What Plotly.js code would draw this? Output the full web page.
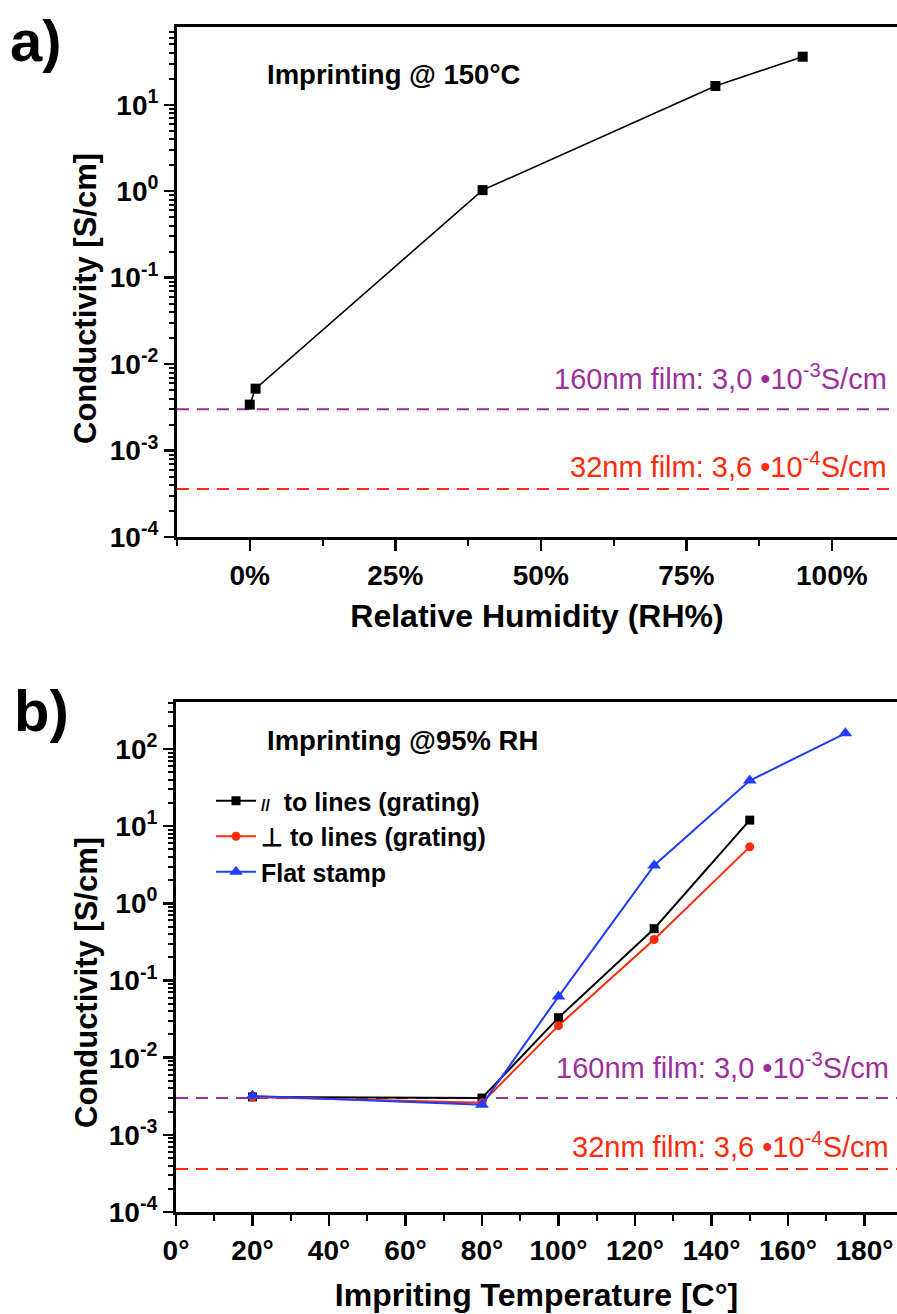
<!DOCTYPE html>
<html>
<head>
<meta charset="utf-8">
<script src="https://cdn.plot.ly/plotly-3.0.1.min.js"></script>
<style>html,body{margin:0;padding:0;background:#fff;}#chart{width:897px;height:1314px;}</style>
</head>
<body>
<div id="chart"></div>
<script>
// ---------- Data ----------
// Panel a: conductivity vs relative humidity (imprinting @150°C)
const rhValues = [0, 1, 40, 80, 95];              // RH %
const rhConductivity = [3.4e-3, 5.2e-3, 1.03, 16.5, 36];  // S/cm

// Panel b: conductivity vs imprinting temperature (95% RH)
const tempParallel = [20, 80, 100, 125, 150];
const condParallel = [3.1e-3, 3.0e-3, 0.033, 0.47, 12.0];
const tempPerp = [20, 80, 100, 125, 150];
const condPerp = [3.1e-3, 2.6e-3, 0.026, 0.34, 5.4];
const tempFlat = [20, 80, 100, 125, 150, 175];
const condFlat = [3.2e-3, 2.45e-3, 0.062, 3.1, 39, 160];

// Reference film conductivities
const film160 = 3.0e-3;
const film32 = 3.6e-4;

// Tick labels
const yTickVals = [1e-4, 1e-3, 1e-2, 1e-1, 1e0, 1e1, 1e2];
const yTickText = ['10<sup>-4</sup>', '10<sup>-3</sup>', '10<sup>-2</sup>', '10<sup>-1</sup>', '10<sup>0</sup>', '10<sup>1</sup>', '10<sup>2</sup>'];

const legendNames = [
  "<span style='font-size:16px'>//</span>  to lines (grating)",
  "\u22A5 to lines (grating)",
  "Flat stamp"
];
const yTitle = 'Conductivity [S/cm]';
const panelNotes = ['Imprinting @ 150°C', 'Imprinting @95% RH'];
const filmNotes = ['160nm film: 3,0 \u202210<sup>-3</sup>S/cm', '32nm film: 3,6 \u202210<sup>-4</sup>S/cm'];

// ---------- Styling ----------
const W = 897, H = 1314;
const py = p => 1 - p / H;
const px = p => p / W;
const FONT = 'Liberation Sans, Arial, sans-serif';
const PURPLE = '#9b2f9b';
const RED = '#ff2a0a';
const BLUE = '#1f3cff';

const minorVals = [];
for (let d = -5; d <= 3; d++) for (let k = 2; k <= 9; k++) minorVals.push(k * Math.pow(10, d));

const tickFont = {family: FONT, size: 28, color: '#000', weight: 'bold'};
const titleFont = {family: FONT, size: 32, color: '#000', weight: 'bold'};

function yAxis(range, domain, anchor) {
  return {
    type: 'log', range: range, domain: domain, anchor: anchor,
    tickmode: 'array', tickvals: yTickVals, ticktext: yTickText,
    ticks: 'outside', ticklen: 10, tickwidth: 2.5, tickcolor: '#000',
    minor: {tickmode: 'array', tickvals: minorVals, ticks: 'outside', ticklen: 5, tickwidth: 2, tickcolor: '#000', showgrid: false},
    showline: true, linewidth: 3, linecolor: '#000', mirror: false,
    showgrid: false, zeroline: false,
    tickfont: tickFont
  };
}

const traces = [
  {x: rhValues, y: rhConductivity, xaxis: 'x', yaxis: 'y', mode: 'lines+markers',
   line: {color: '#000', width: 1.6}, marker: {symbol: 'square', size: 10, color: '#000'}, showlegend: false},
  {x: tempParallel, y: condParallel, xaxis: 'x2', yaxis: 'y2', mode: 'lines+markers', name: legendNames[0],
   legendgroup: 'g1', line: {color: '#000', width: 2}, marker: {symbol: 'square', size: 9, color: '#000'}},
  {x: tempPerp, y: condPerp, xaxis: 'x2', yaxis: 'y2', mode: 'lines+markers', name: legendNames[1],
   legendgroup: 'g2', line: {color: RED, width: 2}, marker: {symbol: 'circle', size: 9, color: RED}},
  {x: tempFlat, y: condFlat, xaxis: 'x2', yaxis: 'y2', mode: 'lines+markers', name: legendNames[2],
   legendgroup: 'g3', line: {color: BLUE, width: 2}, marker: {symbol: 'triangle-up', size: 12, color: BLUE}}
];

function hline(yref, xref, val, color) {
  return {type: 'line', xref: xref + ' domain', yref: yref, x0: 0, x1: 1, y0: val, y1: val,
          line: {color: color, width: 2, dash: '12px,8px'}, layer: 'below'};
}

function note(text, xpx, ypx, color, size, bold, anchor, angle) {
  return {text: text, xref: 'paper', yref: 'paper', x: px(xpx), y: py(ypx), xanchor: anchor || 'left', yanchor: 'middle',
          textangle: angle || 0,
          showarrow: false, font: {family: FONT, size: size, color: color, weight: bold ? 'bold' : 'normal'}};
}

const layout = {
  width: W, height: H,
  margin: {l: 0, r: 0, t: 0, b: 0},
  paper_bgcolor: '#fff', plot_bgcolor: '#fff',
  font: {family: FONT, color: '#000'},
  xaxis: {
    domain: [px(177), 1], anchor: 'y', range: [-12.5, 111.2],
    tickmode: 'linear', tick0: 0, dtick: 25, ticksuffix: '%',
    ticks: 'outside', ticklen: 11, tickwidth: 2.5, tickcolor: '#000',
    minor: {tick0: 0, dtick: 12.5, ticks: 'outside', ticklen: 6, tickwidth: 2, tickcolor: '#000', showgrid: false},
    showline: true, linewidth: 3, linecolor: '#000', mirror: true,
    showgrid: false, zeroline: false, tickfont: tickFont,
    title: {text: 'Relative Humidity (RH%)', font: titleFont, standoff: 16}
  },
  yaxis: yAxis([-4, 1.9], [py(537), py(27)], 'x'),
  xaxis2: {
    domain: [px(176), 1], anchor: 'y2', range: [0, 188.5],
    tickmode: 'linear', tick0: 0, dtick: 20, ticksuffix: '°',
    ticks: 'outside', ticklen: 11, tickwidth: 2.5, tickcolor: '#000',
    minor: {tick0: 0, dtick: 10, ticks: 'outside', ticklen: 6, tickwidth: 2, tickcolor: '#000', showgrid: false},
    showline: true, linewidth: 3, linecolor: '#000', mirror: true,
    showgrid: false, zeroline: false, tickfont: tickFont,
    title: {text: 'Impriting Temperature [C°]', font: titleFont, standoff: 20}
  },
  yaxis2: yAxis([-4, 2.61], [py(1212), py(702)], 'x2'),
  showlegend: true,
  legend: {x: px(211), y: py(778), xanchor: 'left', yanchor: 'top', bgcolor: 'rgba(0,0,0,0)',
           font: {family: FONT, size: 25, color: '#000', weight: 'bold'}, itemwidth: 40,
           traceorder: 'grouped', tracegroupgap: 0},
  shapes: [
    hline('y', 'x', film160, PURPLE), hline('y', 'x', film32, RED),
    hline('y2', 'x2', film160, PURPLE), hline('y2', 'x2', film32, RED)
  ],
  annotations: [
    note(yTitle, 86, 299, '#000', 31, true, 'center', -90),
    note(yTitle, 86, 983, '#000', 31, true, 'center', -90),
    note('a)', 8, 40, '#000', 58, true),
    note('b)', 12, 710, '#000', 58, true),
    note(panelNotes[0], 265, 74, '#000', 27.5, true),
    note(panelNotes[1], 265, 740, '#000', 27.5, true),
    note(filmNotes[0], 889, 377, PURPLE, 29, false, 'right'),
    note(filmNotes[1], 889, 465, RED, 29, false, 'right'),
    note(filmNotes[0], 891, 1066, PURPLE, 29, false, 'right'),
    note(filmNotes[1], 891, 1145, RED, 29, false, 'right')
  ]
};

Plotly.newPlot('chart', traces, layout, {staticPlot: true});
</script>
</body>
</html>
